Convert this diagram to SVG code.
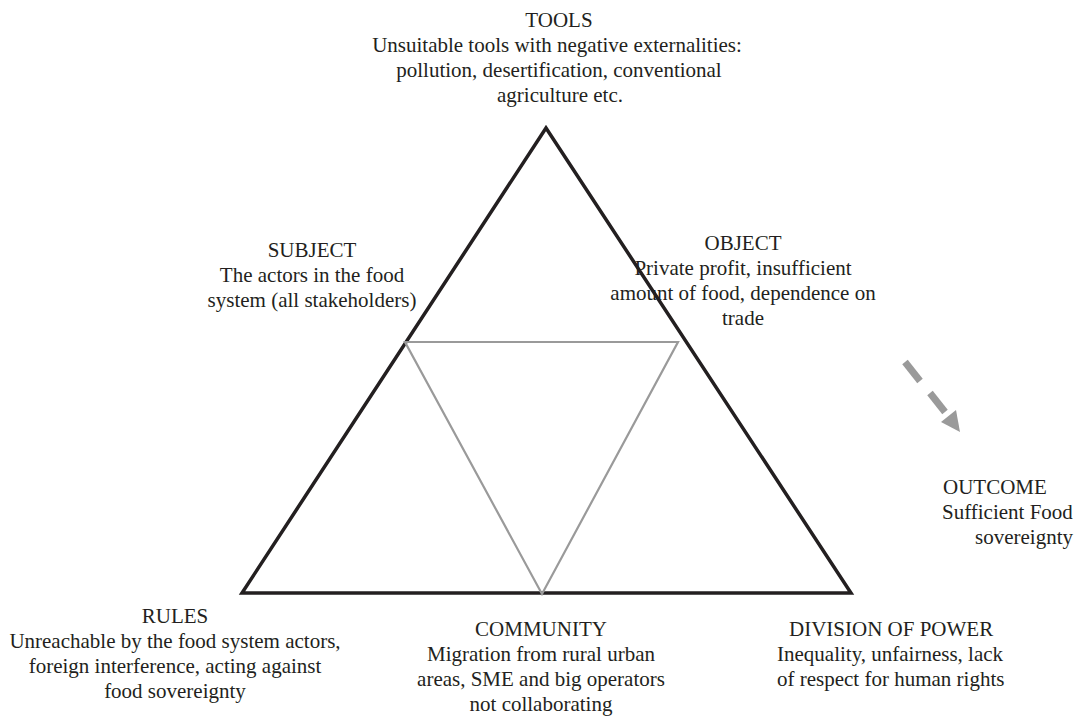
<svg xmlns="http://www.w3.org/2000/svg" width="1078" height="722" viewBox="0 0 1078 722">
<style>
.outer{fill:none;stroke:#231f20;stroke-width:3.5;stroke-linejoin:miter;}
.inner{fill:none;stroke:#9a9a9a;stroke-width:2.2;}
.dash{stroke:#9a9a9a;stroke-width:7;stroke-linecap:butt;}
</style>
<rect width="1078" height="722" fill="#ffffff"/>
<g id="connectors">
<polygon class="outer" points="546,128 242,593 851,593"/>
<polygon class="inner" points="405,342 678,342 542,594"/>
<g id="arrow">
<line class="dash" x1="905" y1="362" x2="920" y2="381"/>
<line class="dash" x1="930" y1="393" x2="945" y2="412"/>
<polygon points="941,422 956,410 960,432" fill="#9a9a9a"/>
</g>
</g>
<g font-family="Liberation Serif, Times New Roman, serif" font-size="21" fill="#231f20">
<g id="tools" text-anchor="middle">
<text x="559" y="27">TOOLS</text>
<text x="557" y="52">Unsuitable tools with negative externalities:</text>
<text x="559" y="77">pollution, desertification, conventional</text>
<text x="560" y="102">agriculture etc.</text>
</g>
<g id="subject" text-anchor="middle">
<text x="312" y="257">SUBJECT</text>
<text x="312" y="282">The actors in the food</text>
<text x="312" y="307">system (all stakeholders)</text>
</g>
<g id="object" text-anchor="middle">
<text x="743" y="250">OBJECT</text>
<text x="743" y="275">Private profit, insufficient</text>
<text x="743" y="300">amount of food, dependence on</text>
<text x="743" y="325">trade</text>
</g>
<g id="outcome">
<text x="943" y="494">OUTCOME</text>
<text x="942" y="519">Sufficient Food</text>
<text x="975" y="544">sovereignty</text>
</g>
<g id="rules" text-anchor="middle">
<text x="175" y="623">RULES</text>
<text x="175" y="648">Unreachable by the food system actors,</text>
<text x="175" y="673">foreign interference, acting against</text>
<text x="175" y="698">food sovereignty</text>
</g>
<g id="community" text-anchor="middle">
<text x="541" y="636">COMMUNITY</text>
<text x="541" y="661">Migration from rural urban</text>
<text x="541" y="686">areas, SME and big operators</text>
<text x="541" y="711">not collaborating</text>
</g>
<g id="division">
<text x="789" y="636">DIVISION OF POWER</text>
<text x="777" y="661">Inequality, unfairness, lack</text>
<text x="777" y="686">of respect for human rights</text>
</g>
</g>
</svg>
